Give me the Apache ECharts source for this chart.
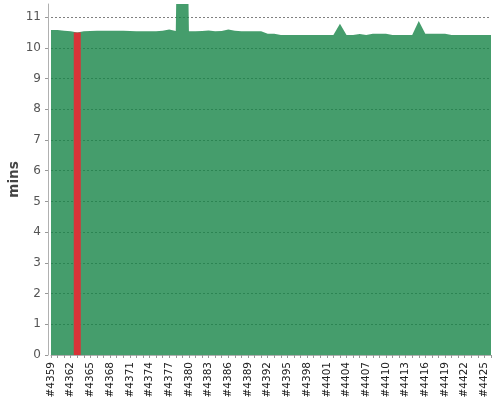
<!DOCTYPE html>
<html>
<head>
<meta charset="utf-8">
<script src="https://cdn.jsdelivr.net/npm/echarts@6/dist/echarts.min.js"></script>
<style>html,body{margin:0;padding:0;background:#fff}#chart{width:500px;height:400px}</style>
</head>
<body>
<div id="chart"></div>
<script>
// builds #4359 .. #4425
const categories = [
  '#4359','#4360','#4361','#4362','#4363','#4364','#4365','#4366','#4367','#4368',
  '#4369','#4370','#4371','#4372','#4373','#4374','#4375','#4376','#4377','#4378',
  '#4379','#4380','#4381','#4382','#4383','#4384','#4385','#4386','#4387','#4388',
  '#4389','#4390','#4391','#4392','#4393','#4394','#4395','#4396','#4397','#4398',
  '#4399','#4400','#4401','#4402','#4403','#4404','#4405','#4406','#4407','#4408',
  '#4409','#4410','#4411','#4412','#4413','#4414','#4415','#4416','#4417','#4418',
  '#4419','#4420','#4421','#4422','#4423','#4424','#4425'
];
// build duration in minutes
const durations = [
  10.58,10.58,10.56,10.54,10.50,10.54,10.55,10.56,10.56,10.56,
  10.56,10.56,10.55,10.54,10.54,10.54,10.54,10.56,10.60,10.55,
  25.0, 10.54,10.54,10.55,10.57,10.54,10.55,10.60,10.56,10.54,
  10.54,10.54,10.54,10.46,10.46,10.42,10.42,10.42,10.42,10.42,
  10.42,10.42,10.42,10.42,10.79,10.42,10.42,10.45,10.42,10.46,
  10.46,10.46,10.42,10.42,10.42,10.42,10.88,10.46,10.46,10.46,
  10.46,10.42,10.42,10.42,10.42,10.42,10.42
];
const failedBuilds = ['#4363'];
const yTicks = [0,1,2,3,4,5,6,7,8,9,10,11];
const yMax = 11.43;

const axisCats = categories.concat(['']);
const greenData = durations.concat([durations[durations.length - 1]]);
const redData = axisCats.map((c, i) => failedBuilds.indexOf(c) >= 0 ? durations[i] : null);

const chart = echarts.init(document.getElementById('chart'), null, {renderer: 'canvas'});
chart.setOption({
  animation: false,
  backgroundColor: '#ffffff',
  grid: {left: 51, right: 9, top: 4, bottom: 45, containLabel: false, outerBoundsMode: 'none'},
  xAxis: {
    type: 'category',
    data: axisCats,
    boundaryGap: false,
    offset: 3,
    axisLine: {show: true, lineStyle: {color: '#b0b0b0', width: 1}},
    axisTick: {show: true, interval: 0, length: 3, lineStyle: {color: '#999'}},
    axisLabel: {interval: 2, rotate: 90, fontSize: 10.5, color: '#222', margin: 4, fontFamily: 'DejaVu Sans'},
    splitLine: {show: false}
  },
  yAxis: {
    type: 'value',
    min: 0,
    max: yMax,
    interval: 1,
    offset: 3,
    name: 'mins',
    nameLocation: 'middle',
    nameGap: 27,
    nameMoveOverlap: false,
    nameRotate: 90,
    nameTextStyle: {fontSize: 13.5, fontWeight: 'bold', color: '#444', fontFamily: 'DejaVu Sans'},
    axisLine: {show: true, lineStyle: {color: '#b0b0b0', width: 1}},
    axisTick: {show: true, length: 3, lineStyle: {color: '#999'}},
    axisLabel: {
      fontSize: 12, color: '#555', margin: 7, fontFamily: 'DejaVu Sans',
      showMaxLabel: false,
      formatter: v => (yTicks.indexOf(v) >= 0 ? String(v) : '')
    },
    splitLine: {show: true, showMaxLine: false, lineStyle: {color: '#808080', type: [2, 2], width: 1}}
  },
  series: [
    {
      type: 'line',
      data: greenData,
      symbol: 'none',
      clip: true,
      lineStyle: {width: 0, opacity: 0},
      areaStyle: {color: 'rgb(22,132,71)', opacity: 0.8},
      z: 2
    },
    {
      type: 'bar',
      data: redData,
      barWidth: 7,
      itemStyle: {color: '#d83438'},
      z: 3
    }
  ]
});
</script>
</body>
</html>
